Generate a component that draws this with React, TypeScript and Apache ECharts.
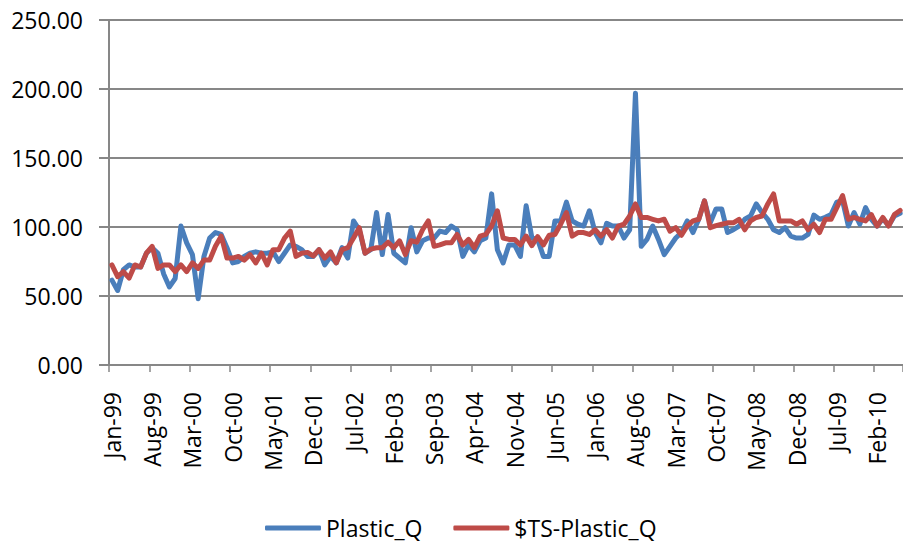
import React, { useEffect, useRef } from "react";
import * as echarts from "echarts";

const MONTHS = ["Jan", "Feb", "Mar", "Apr", "May", "Jun", "Jul", "Aug", "Sep", "Oct", "Nov", "Dec"];
const START_YEAR = 1999;
const N_MONTHS = 138; // Jan-99 .. Jun-10

const categories: string[] = [];
for (let i = 0; i < N_MONTHS; i++) {
  const y = START_YEAR + Math.floor(i / 12);
  categories.push(MONTHS[i % 12] + "-" + String(y % 100).padStart(2, "0"));
}

const plasticQ = [
  61.5, 54, 69, 72.5, 71, 71, 81, 85, 81, 66, 56.6, 62.7,
  100.7, 88.5, 80, 48, 78.7, 92, 96, 94.6, 85, 74, 75, 78.7,
  81, 82, 81, 81, 82, 75, 81, 87, 86, 83.6, 78.7, 78.7,
  83.6, 72.5, 78.7, 74, 85, 77.5, 104.4, 98, 81, 83.6, 110.5, 80,
  109, 81, 77.5, 74, 99.5, 82, 90, 92, 92, 97, 96, 100.7,
  98, 78.7, 87, 82, 90, 92, 124, 83.6, 74, 87, 87, 78.7,
  115.4, 92, 91, 78.7, 78.7, 104.4, 104.4, 118, 104.4, 102, 100.7, 111.8,
  96, 88.5, 102.7, 100.7, 100.7, 92, 98, 197, 86, 91, 100.7, 91,
  80, 86, 92, 96, 104.4, 96, 105.6, 119, 103, 113, 113, 96,
  98, 100.7, 105.6, 108, 116.7, 110.5, 105.6, 98, 96, 99.5, 93.4, 92,
  92, 94.6, 108.6, 105.6, 107, 109, 118, 119, 100.7, 110.5, 102, 114,
  105.6, 100.7, 106, 101, 108, 110,
];

const tsPlasticQ = [
  72.5, 64, 67.6, 63, 72.5, 71, 81, 86, 70, 72.5, 72.5, 67.6,
  72.5, 67.6, 74, 70, 76, 76, 86, 93.4, 77.5, 77.5, 78.7, 76,
  80, 74, 81, 72.5, 83.6, 83.6, 92, 97, 78.7, 81, 81.6, 79,
  83.6, 77.5, 82, 74, 83.6, 85, 92, 99.5, 81, 84, 85, 85,
  89, 85, 90, 80, 90, 89, 98, 104.4, 86, 87, 88.5, 88.5,
  94.6, 87, 91, 85, 93.4, 94.6, 100.7, 111.8, 92, 91, 91, 87,
  93.4, 86.5, 93, 87, 94, 94.6, 102, 110.5, 93.4, 96, 96, 94.6,
  98, 93.4, 98, 92, 100.7, 102, 108, 116.7, 106.9, 106.9, 105.6, 104.4,
  105.6, 97, 99.5, 94, 100.7, 104.4, 105.6, 119, 99.5, 101, 102, 103,
  103, 105.6, 98, 104.4, 106.9, 108, 116.7, 124, 104.4, 104.4, 104.4, 102,
  104.4, 98, 102, 96, 105.6, 105.6, 114, 122.8, 105.6, 106.9, 105.6, 104.4,
  109, 100.7, 106.9, 100.7, 109, 112,
];

const SERIES_NAMES = ["Plastic_Q", "$TS-Plastic_Q"];
const Y_MIN = 0;
const Y_MAX = 250;
const Y_STEP = 50;

const FONT = "'Open Sans', 'Noto Sans', sans-serif";
const GRID_COLOR = "#878787";

export default function App() {
  const ref = useRef<HTMLDivElement>(null);

  useEffect(() => {
    if (!ref.current) return;
    const chart = echarts.init(ref.current, null, { renderer: "svg" });
    chart.setOption({
      animation: false,
      backgroundColor: "#ffffff",
      textStyle: { fontFamily: FONT },
      grid: { left: 109, right: 0, top: 20, bottom: 178, containLabel: false },
      xAxis: {
        type: "category",
        data: categories,
        boundaryGap: true,
        axisLine: { show: true, lineStyle: { color: GRID_COLOR, width: 2 } },
        axisTick: { show: true, interval: 6, length: 7, lineStyle: { color: GRID_COLOR, width: 1.5 } },
        axisLabel: {
          interval: 6,
          rotate: 90,
          margin: 27,
          color: "#000",
          fontSize: 23,
          fontFamily: FONT,
        },
        splitLine: { show: false },
      },
      yAxis: {
        type: "value",
        min: Y_MIN,
        max: Y_MAX,
        interval: Y_STEP,
        axisLine: { show: true, lineStyle: { color: GRID_COLOR, width: 2 } },
        axisTick: { show: true, length: 10, lineStyle: { color: GRID_COLOR, width: 2 } },
        axisLabel: {
          margin: 26,
          color: "#000",
          fontSize: 23,
          fontFamily: FONT,
          formatter: (v: number) => v.toFixed(2),
        },
        splitLine: { show: true, lineStyle: { color: GRID_COLOR, width: 2 } },
      },
      legend: {
        left: 265,
        top: 514,
        padding: 0,
        itemWidth: 56,
        itemHeight: 5,
        itemGap: 31,
        textStyle: { color: "#000", fontSize: 23, fontFamily: FONT, lineHeight: 28 },
        data: [
          { name: SERIES_NAMES[0], icon: "roundRect" },
          { name: SERIES_NAMES[1], icon: "roundRect" },
        ],
      },
      series: [
        {
          name: SERIES_NAMES[0],
          type: "line",
          data: plasticQ,
          symbol: "none",
          color: "#4A7EBB",
          lineStyle: { width: 5, color: "#4A7EBB", cap: "round", join: "round" },
        },
        {
          name: SERIES_NAMES[1],
          type: "line",
          data: tsPlasticQ,
          symbol: "none",
          color: "#BE4B48",
          lineStyle: { width: 5, color: "#BE4B48", cap: "round", join: "round" },
        },
      ],
    });
    return () => chart.dispose();
  }, []);

  return (
    <div
      ref={ref}
      style={{ position: "fixed", left: 0, top: 0, width: 903, height: 543, background: "#fff" }}
    />
  );
}
